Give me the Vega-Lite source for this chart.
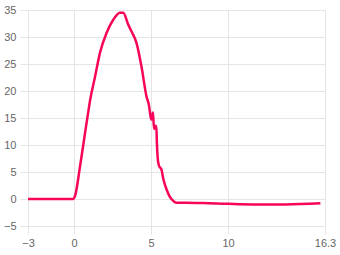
{
  "$schema": "https://vega.github.io/schema/vega-lite/v6.json",
  "width": 297,
  "height": 216,
  "autosize": {"type": "none"},
  "padding": {"left": 28, "top": 10, "right": 15, "bottom": 29},
  "background": "white",
  "config": {
    "view": {"stroke": null},
    "axis": {
      "font": "Liberation Sans",
      "labelFont": "Liberation Sans",
      "labelFontSize": 11,
      "labelColor": "#666666",
      "gridColor": "#e5e5e5",
      "tickColor": "#e5e5e5",
      "domain": false,
      "title": null
    }
  },
  "data": {
    "values": [
      {"x": -3, "y": 0}, {"x": -2, "y": 0}, {"x": -1, "y": 0}, {"x": -0.05, "y": 0},
      {"x": 0.05, "y": 0.5}, {"x": 0.39, "y": 6.2}, {"x": 0.71, "y": 12.3}, {"x": 0.93, "y": 16.4},
      {"x": 1.03, "y": 18.2}, {"x": 1.36, "y": 22.7}, {"x": 1.68, "y": 27.1}, {"x": 2.11, "y": 30.8},
      {"x": 2.54, "y": 33.2}, {"x": 2.97, "y": 34.5}, {"x": 3.19, "y": 34.5}, {"x": 3.51, "y": 32.3},
      {"x": 3.73, "y": 31.0}, {"x": 4.05, "y": 28.9}, {"x": 4.37, "y": 24.6}, {"x": 4.7, "y": 19.0},
      {"x": 4.87, "y": 17.2}, {"x": 4.95, "y": 15.5}, {"x": 5.02, "y": 14.7}, {"x": 5.12, "y": 16.0},
      {"x": 5.19, "y": 13.0}, {"x": 5.24, "y": 13.6}, {"x": 5.3, "y": 13.2}, {"x": 5.34, "y": 13.5},
      {"x": 5.38, "y": 10.1}, {"x": 5.45, "y": 7.0}, {"x": 5.52, "y": 6.1}, {"x": 5.67, "y": 5.5},
      {"x": 5.78, "y": 3.9}, {"x": 6.0, "y": 1.8}, {"x": 6.2, "y": 0.5}, {"x": 6.42, "y": -0.3},
      {"x": 6.64, "y": -0.7}, {"x": 7.28, "y": -0.7}, {"x": 8.36, "y": -0.75}, {"x": 10, "y": -0.9},
      {"x": 11.6, "y": -1.0}, {"x": 13.75, "y": -1.0}, {"x": 16, "y": -0.8}
    ]
  },
  "mark": {"type": "line", "color": "#f7055a", "strokeWidth": 2.5, "interpolate": "monotone"},
  "encoding": {
    "x": {
      "field": "x", "type": "quantitative",
      "scale": {"domain": [-3, 16.3], "nice": false, "zero": false},
      "axis": {"values": [-3, 0, 5, 10, 16.3], "labelExpr": "format(datum.value, '.1~f')", "tickSize": 8, "labelPadding": 3, "labelFlush": false, "labelOverlap": false}
    },
    "y": {
      "field": "y", "type": "quantitative",
      "scale": {"domain": [-5, 35], "nice": false, "zero": false},
      "axis": {"values": [-5, 0, 5, 10, 15, 20, 25, 30, 35], "tickSize": 8, "labelPadding": 4}
    }
  }
}
